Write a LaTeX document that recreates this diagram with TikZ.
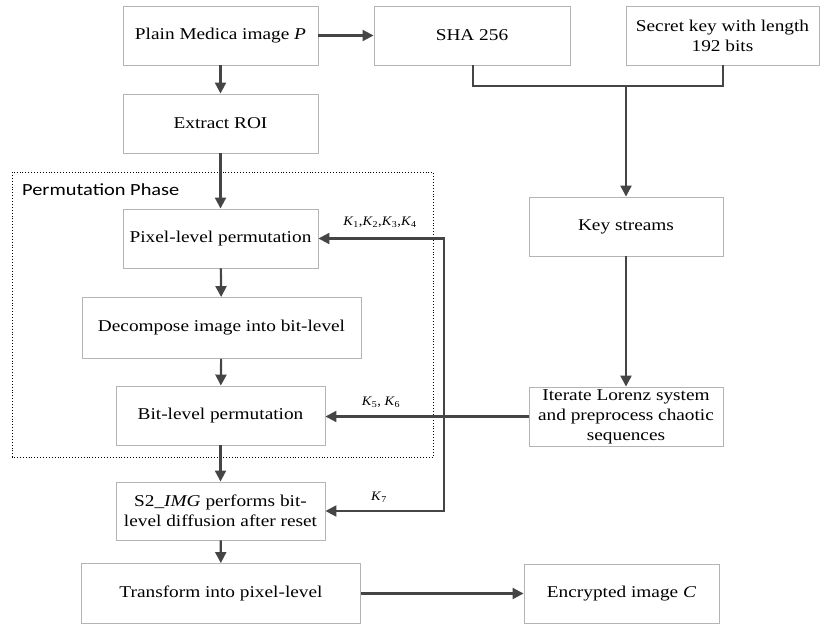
\documentclass[tikz,border=0pt]{standalone}
\usepackage{fontspec}
\setmainfont{Liberation Serif}[FakeStretch=1.17]
\newfontfamily\phasefont{Carlito}[FakeStretch=1.2]
\newfontfamily\kfont{Liberation Serif}[FakeStretch=1.1]
\usetikzlibrary{arrows.meta}
\definecolor{linec}{HTML}{454545}
\definecolor{boxc}{HTML}{B4B4B4}
\tikzset{
  box/.style={draw=boxc, line width=0.9pt, fill=white, align=center, inner sep=2pt,
    font=\fontsize{16.5}{20}\selectfont, minimum height=59pt},
  conn/.style={draw=linec, line width=2.2pt, -{Triangle[length=11pt,width=11pt]}},
  plainline/.style={draw=linec, line width=2.2pt},
  klabel/.style={font=\kfont\fontsize{13}{15}\selectfont, inner sep=0pt}
}
\newcommand{\kk}[1]{\textit{K}\textsubscript{#1}}
\begin{document}
\begin{tikzpicture}[x=1pt,y=-1pt]
\useasboundingbox (0,0) rectangle (821,626);
% dotted frame
\draw[black, line width=0.9pt, dotted] (12,172) rectangle (433,457);
\node[font=\phasefont\fontsize{17}{20}\selectfont, anchor=west, inner sep=0pt] (phase) at (22,190) {Permutation Phase};

\node[box, minimum width=195pt] (plain) at (220.5,35.5) {Plain Medica image \textit{P}};
\node[box, minimum width=196pt] (sha) at (472,35.5) {SHA 256};
\node[box, minimum width=193pt] (secret) at (722.5,35.5) {Secret key with length\\192 bits};
\node[box, minimum width=195pt] (roi) at (220.5,123.5) {Extract ROI};
\node[box, minimum width=195pt] (pix) at (220.5,238.5) {Pixel-level permutation};
\node[box, minimum width=279pt, minimum height=61pt] (dec) at (221.5,328) {Decompose image into bit-level};
\node[box, minimum width=209pt] (bitp) at (220.5,415.5) {Bit-level permutation};
\node[box, minimum width=209pt, minimum height=58pt] (s2) at (220.5,511) {S2\_\textit{IMG} performs bit-\\level diffusion after reset};
\node[box, minimum width=279pt, minimum height=60pt] (trans) at (221,593.5) {Transform into pixel-level};
\node[box, minimum width=195pt] (enc) at (621.5,593.5) {Encrypted image \textit{C}};
\node[box, minimum width=194pt] (keys) at (626,226.5) {Key streams};
\node[box, minimum width=194pt] (lor) at (626,416.5) {Iterate Lorenz system\\and preprocess chaotic\\sequences};

\coordinate (j1) at (473,86);
\coordinate (j2) at (723,86);
\coordinate (jm) at (626,86);
\coordinate (vt) at (444,238.5);
\coordinate (vb) at (444,511);

\draw[conn] (plain) -- (sha);
\draw[conn] (plain) -- (roi);
\draw[conn] (roi) -- (pix);
\draw[conn] (pix) -- (dec);
\draw[conn] (dec) -- (bitp);
\draw[conn] (bitp) -- (s2);
\draw[conn] (s2) -- (trans);
\draw[conn] (trans) -- (enc);
\draw[plainline] (sha.south -| j1) -- (j1) -- (j2) -- (secret.south -| j2);
\draw[conn] (jm) -- (keys);
\draw[conn] (keys) -- (lor);
\draw[conn] (lor) -- (bitp.east |- lor);
\draw[conn] (vt |- vb) -- (vt) -- (pix.east);
\draw[conn] (vt) -- (vb) -- (s2.east);

\node[klabel] (k14) at (380,222) {\kk{1},\kk{2},\kk{3},\kk{4}};
\node[klabel] (k56) at (381,402) {\kk{5}, \kk{6}};
\node[klabel] (k7) at (379,497) {\kk{7}};
\end{tikzpicture}
\end{document}
